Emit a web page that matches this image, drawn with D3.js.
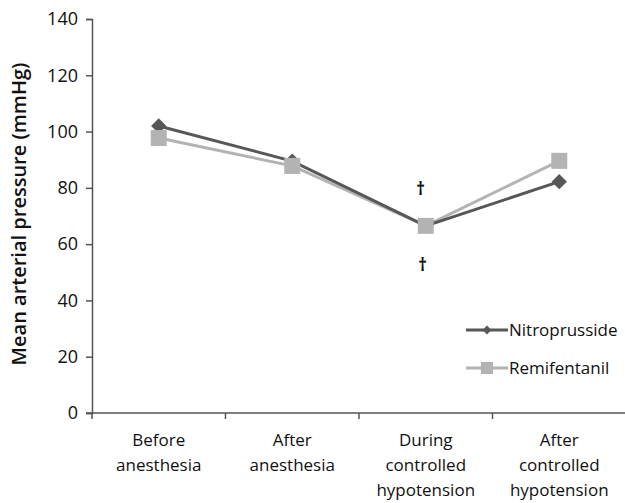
<!DOCTYPE html>
<html>
<head>
<meta charset="utf-8">
<script src="https://cdn.jsdelivr.net/npm/d3@7"></script>
<style>
  body { margin: 0; background: #fff; }
  text { font-family: "Open Sans", "DejaVu Sans", sans-serif; fill: #111; }
</style>
</head>
<body>
<div id="chart"></div>
<script>
const categories = [['Before', 'anesthesia'], ['After', 'anesthesia'], ['During', 'controlled', 'hypotension'], ['After', 'controlled', 'hypotension']];
const nitroprusside = [102, 89.5, 66.5, 82.2];
const remifentanil = [97.7, 87.8, 66.5, 89.6];
const yTicks = [0, 20, 40, 60, 80, 100, 120, 140];
const daggers = [[2, 77.5], [2, 50.5]]; // [category index, value]

const width = 625, height = 503;
const margin = {top: 19, right: 0, bottom: 90, left: 92};

const svg = d3.select('#chart')
  .append('svg')
    .attr('width', width)
    .attr('height', height);

const x = d3.scaleBand()
  .domain(d3.range(categories.length))
  .range([margin.left, margin.left + 4 * 133.5]);

const y = d3.scaleLinear()
  .domain([0, 140])
  .range([height - margin.bottom, margin.top]);

// y axis
const yAxis = svg.append('g')
  .attr('transform', `translate(${margin.left},0)`)
  .call(d3.axisLeft(y).tickValues(yTicks).tickSize(6).tickPadding(8));
yAxis.select('.domain').attr('stroke', '#555').attr('stroke-width', 1.5);
yAxis.selectAll('.tick line').attr('stroke', '#555').attr('stroke-width', 1.5);
yAxis.selectAll('.tick text').style('font-size', '18px').attr('fill', '#111');

// x axis with boundary ticks
const xAxisG = svg.append('g')
  .attr('transform', `translate(0,${y(0)})`);
xAxisG.append('line')
  .attr('x1', margin.left - 6).attr('x2', x.range()[1])
  .attr('stroke', '#555').attr('stroke-width', 1.5);
xAxisG.selectAll('.xtick')
  .data(d3.range(categories.length + 1))
  .join('line')
    .attr('x1', i => margin.left + i * x.bandwidth())
    .attr('x2', i => margin.left + i * x.bandwidth())
    .attr('y1', 0).attr('y2', 6)
    .attr('stroke', '#555').attr('stroke-width', 1.5);
xAxisG.selectAll('.xlabel')
  .data(categories)
  .join('text')
    .attr('text-anchor', 'middle')
    .style('font-size', '17px')
    .attr('transform', (d, i) => `translate(${x(i) + x.bandwidth() / 2},0)`)
    .selectAll('tspan')
    .data(d => d)
    .join('tspan')
      .attr('x', 0)
      .attr('y', (d, j) => 33 + j * 25)
      .text(d => d);

// y title
svg.append('text')
  .attr('transform', `translate(26,${(55 + 373) / 2}) rotate(-90)`)
  .attr('text-anchor', 'middle')
  .style('font-size', '20px')
  .style('font-weight', '600')
  .text('Mean arterial pressure (mmHg)');

const line = d3.line()
  .x((d, i) => x(i) + x.bandwidth() / 2)
  .y(d => y(d));

const nitroColor = '#575757';
const remiColor = '#b3b3b3';

svg.append('path')
  .datum(remifentanil)
  .attr('fill', 'none')
  .attr('stroke', remiColor)
  .attr('stroke-width', 3)
  .attr('d', line);
svg.append('path')
  .datum(nitroprusside)
  .attr('fill', 'none')
  .attr('stroke', nitroColor)
  .attr('stroke-width', 3)
  .attr('d', line);

svg.selectAll('.nitro')
  .data(nitroprusside)
  .join('path')
    .attr('class', 'nitro')
    .attr('d', d3.symbol(d3.symbolDiamond2, 150))
    .attr('transform', (d, i) => `translate(${x(i) + x.bandwidth() / 2},${y(d)})`)
    .attr('fill', nitroColor);
svg.selectAll('.remi')
  .data(remifentanil)
  .join('rect')
    .attr('class', 'remi')
    .attr('x', (d, i) => x(i) + x.bandwidth() / 2 - 8)
    .attr('y', d => y(d) - 8)
    .attr('width', 16)
    .attr('height', 16)
    .attr('fill', remiColor);

// daggers
svg.selectAll('.dagger')
  .data(daggers)
  .join('text')
    .attr('class', 'dagger')
    .attr('x', (d, k) => x(d[0]) + x.bandwidth() / 2 - 5 + k * 2)
    .attr('y', d => y(d[1]))
    .attr('text-anchor', 'middle')
    .style('font-size', '17px')
    .style('font-weight', 'bold')
    .text('\u2020');

// legend
const legend = svg.append('g').attr('transform', 'translate(466,330)');
const items = [
  {name: 'Nitroprusside', color: nitroColor, shape: 'diamond'},
  {name: 'Remifentanil', color: remiColor, shape: 'square'}
];
const li = legend.selectAll('g')
  .data(items)
  .join('g')
    .attr('transform', (d, i) => `translate(0,${i * 38})`);
li.append('line')
  .attr('x1', 0).attr('x2', 42)
  .attr('stroke', d => d.color)
  .attr('stroke-width', 3);
li.filter(d => d.shape === 'diamond')
  .append('path')
    .attr('d', d3.symbol(d3.symbolDiamond2, 50))
    .attr('transform', 'translate(21,0)')
    .attr('fill', d => d.color);
li.filter(d => d.shape === 'square')
  .append('rect')
    .attr('x', 15).attr('y', -6).attr('width', 12).attr('height', 12)
    .attr('fill', d => d.color);
li.append('text')
  .attr('x', 43)
  .attr('dy', '0.35em')
  .style('font-size', '17px')
  .text(d => d.name);
</script>
</body>
</html>
